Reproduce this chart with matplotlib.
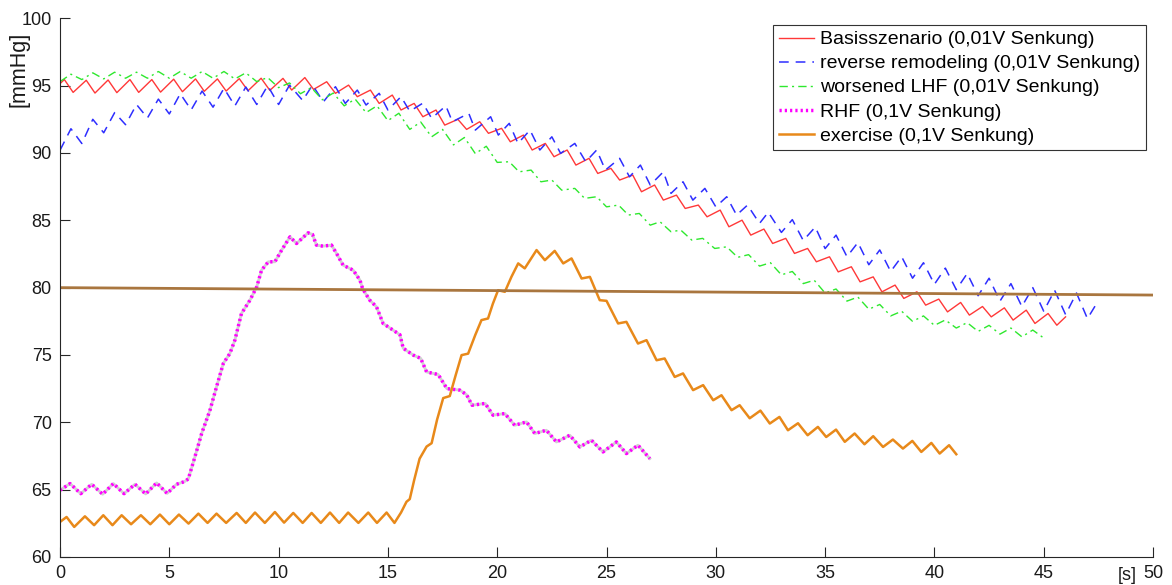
import matplotlib
matplotlib.use("Agg")
import matplotlib.pyplot as plt

plt.rcParams['font.family'] = ['Liberation Sans', 'DejaVu Sans']
plt.rcParams['lines.scale_dashes'] = False

# Basisszenario (0,01V Senkung)
red_t = [0.0, 0.2, 0.6, 1.2, 1.6, 2.2, 2.6, 3.2, 3.6, 4.2, 4.6, 5.2, 5.6, 6.2, 6.6, 7.2, 7.6,
         8.2, 8.6, 9.2, 9.6, 10.2, 10.6, 11.2, 11.6, 12.2, 12.6, 13.2, 13.6, 14.2, 14.6,
         15.2, 15.6, 16.2, 16.6, 17.2, 17.6, 18.2, 18.6, 19.2, 19.6, 20.2, 20.6, 21.2, 21.6,
         22.2, 22.6, 23.2, 23.6, 24.2, 24.6, 25.2, 25.6, 26.2, 26.6, 27.2, 27.6, 28.2, 28.6,
         29.2, 29.6, 30.2, 30.6, 31.2, 31.6, 32.2, 32.6, 33.2, 33.6, 34.2, 34.6, 35.2, 35.6,
         36.2, 36.6, 37.2, 37.6, 38.2, 38.6, 39.2, 39.6, 40.2, 40.6, 41.2, 41.6, 42.2, 42.6,
         43.2, 43.6, 44.2, 44.6, 45.2, 45.6, 46.0]
red_v = [95.15, 95.45, 94.5, 95.4, 94.45, 95.42, 94.48, 95.45, 94.5, 95.45, 94.52, 95.48, 94.55,
         95.5, 94.58, 95.5, 94.6, 95.52, 94.62, 95.55, 94.65, 95.54, 94.67, 95.6, 94.72,
         95.29, 94.43, 95.04, 94.18, 94.67, 93.68, 94.3, 93.19, 93.68, 92.69, 93.19, 92.07,
         92.5, 91.75, 92.32, 91.46, 91.83, 90.83, 91.33, 90.22, 90.71, 89.72, 90.22, 89.1,
         89.6, 88.48, 88.86, 87.99, 88.36, 87.12, 87.62, 86.5, 86.87, 85.88, 86.13, 85.26,
         85.76, 84.52, 85.01, 83.9, 84.35, 83.28, 83.66, 82.54, 82.91, 81.92, 82.29, 81.17,
         81.55, 80.43, 80.8, 79.69, 80.19, 79.2, 79.69, 78.7, 79.15, 78.2, 78.9, 77.96,
         78.6, 77.83, 78.5, 77.59, 78.33, 77.34, 78.08, 77.21, 77.83]

# reverse remodeling (0,01V Senkung)
blue_t = [0.0, 0.5, 1.0, 1.5, 2.0, 2.5, 3.0, 3.5, 4.0, 4.5, 5.0, 5.5, 6.0, 6.5, 7.0, 7.5, 8.0,
          8.5, 9.0, 9.5, 10.0, 10.5, 11.1, 11.55, 12.05, 12.6, 13.05, 13.6, 14.0, 14.6, 15.0,
          15.6, 16.0, 16.6, 17.0, 17.65, 17.95, 18.7, 19.0, 19.7, 20.05, 20.55, 20.95, 21.5,
          21.95, 22.5, 22.9, 23.55, 24.05, 24.55, 24.95, 25.6, 26.05, 26.55, 27.0, 27.6,
          27.95, 28.5, 28.95, 29.5, 30.0, 30.5, 30.95, 31.45, 32.0, 32.4, 33.0, 33.5, 34.0,
          34.55, 35.0, 35.5, 36.0, 36.5, 37.0, 37.5, 38.0, 38.5, 39.0, 39.5, 40.0, 40.5,
          41.0, 41.5, 42.0, 42.5, 43.0, 43.5, 44.0, 44.5, 45.0, 45.5, 46.0, 46.5, 47.0, 47.45]
blue_v = [90.2, 91.8, 90.7, 92.5, 91.5, 93.0, 92.1, 93.6, 92.6, 94.0, 92.9, 94.4, 93.2, 94.6,
          93.4, 94.8, 93.5, 94.9, 93.6, 95.0, 93.6, 95.04, 93.9, 95.04, 93.8, 94.92, 93.68,
          94.67, 93.56, 94.43, 93.19, 94.18, 93.1, 93.7, 92.57, 93.5, 92.32, 92.94, 91.7,
          92.69, 91.33, 92.2, 90.71, 91.7, 90.22, 91.2, 89.97, 90.71, 89.35, 90.22, 88.73,
          89.6, 88.23, 89.1, 87.62, 88.6, 87.0, 87.86, 86.5, 87.37, 86.0, 86.75, 85.39,
          86.13, 84.77, 85.6, 84.1, 85.05, 83.5, 84.5, 82.9, 83.9, 82.3, 83.35, 81.7, 82.8,
          81.2, 82.3, 80.7, 81.85, 80.25, 81.45, 79.85, 81.05, 79.4, 80.7, 79.0, 80.3, 78.6,
          80.0, 78.25, 79.8, 78.0, 79.6, 77.7, 78.9]

# worsened LHF (0,01V Senkung)
green_t = [0.0, 0.5, 1.0, 1.5, 2.0, 2.5, 3.0, 3.5, 4.0, 4.5, 5.0, 5.5, 6.0, 6.5, 7.0, 7.5, 8.0,
           8.5, 9.0, 9.5, 10.0, 10.5, 11.0, 11.5, 12.0, 12.5, 13.0, 13.5, 14.0, 14.5, 15.0,
           15.5, 16.0, 16.5, 17.0, 17.5, 18.0, 18.5, 19.0, 19.5, 20.0, 20.55, 21.0, 21.55,
           22.0, 22.5, 22.95, 23.55, 24.0, 24.55, 25.0, 25.55, 26.0, 26.5, 27.0, 27.45, 27.95,
           28.4, 28.9, 29.4, 29.95, 30.5, 31.0, 31.5, 32.0, 32.5, 33.0, 33.5, 34.0, 34.5,
           35.0, 35.5, 36.0, 36.5, 37.0, 37.5, 38.0, 38.5, 39.0, 39.5, 40.0, 40.5, 41.0,
           41.5, 42.0, 42.5, 43.0, 43.5, 44.0, 44.5, 45.05]
green_v = [95.3, 95.85, 95.45, 95.95, 95.5, 96.0, 95.55, 96.0, 95.55, 96.05, 95.55, 96.05,
           95.55, 96.05, 95.55, 96.05, 95.5, 95.95, 95.3, 95.6, 94.85, 95.2, 94.4, 94.85,
           93.95, 94.45, 93.5, 94.0, 93.0, 93.5, 92.4, 92.95, 91.75, 92.3, 91.2, 91.75, 90.6,
           91.15, 89.95, 90.5, 89.3, 89.35, 88.6, 88.73, 87.86, 87.99, 87.24, 87.37, 86.63,
           86.75, 86.0, 86.13, 85.39, 85.51, 84.64, 84.89, 84.15, 84.27, 83.53, 83.66, 82.91,
           83.03, 82.25, 82.45, 81.6, 81.85, 80.95, 81.2, 80.3, 80.55, 79.6, 79.9, 79.0, 79.3,
           78.4, 78.75, 77.9, 78.25, 77.5, 77.9, 77.2, 77.6, 77.0, 77.4, 76.75, 77.2, 76.55,
           77.0, 76.35, 76.85, 76.2]

# RHF (0,1V Senkung)
rhf_t = [0.0, 0.46, 0.95, 1.45, 1.95, 2.44, 2.93, 3.43, 3.92, 4.42, 4.9, 5.33, 5.7, 5.87,
         6.17, 6.48, 6.86, 7.16, 7.47, 7.77, 8.0, 8.3, 8.69, 9.0, 9.22, 9.53, 9.83, 10.14,
         10.52, 10.82, 11.35, 11.55, 11.73, 12.03, 12.42, 12.65, 12.95, 13.41, 13.72, 13.85,
         14.17, 14.48, 14.78, 15.24, 15.55, 15.7, 16.16, 16.5, 16.77, 17.3, 17.7, 18.29,
         18.6, 18.85, 19.45, 19.81, 20.35, 20.8, 21.34, 21.72, 22.25, 22.71, 23.32, 23.78,
         24.31, 24.84, 25.45, 25.91, 26.44, 26.98]
rhf_v = [64.96, 65.45, 64.7, 65.4, 64.66, 65.45, 64.7, 65.4, 64.68, 65.5, 64.72, 65.4, 65.6,
         65.8, 67.43, 69.17, 70.9, 72.63, 74.37, 75.11, 76.1, 78.08, 79.07, 80.06, 81.3,
         81.92, 81.92, 82.79, 83.77, 83.28, 84.07, 83.95, 83.16, 83.08, 83.16, 82.54, 81.67,
         81.3, 80.56, 79.9, 79.07, 78.57, 77.34, 76.84, 76.5, 75.5, 74.99, 74.75, 73.74,
         73.55, 72.5, 72.39, 72.05, 71.27, 71.4, 70.53, 70.65, 69.78, 70.03, 69.17, 69.41,
         68.54, 69.04, 68.17, 68.67, 67.8, 68.54, 67.68, 68.3, 67.31]

# exercise (0,1V Senkung)
ex_t = [0.0, 0.3, 0.65, 1.14, 1.56, 1.98, 2.4, 2.82, 3.25, 3.7, 4.13, 4.57, 5.0, 5.44, 5.88,
        6.33, 6.75, 7.16, 7.6, 8.08, 8.5, 8.92, 9.37, 9.83, 10.25, 10.67, 11.1, 11.51, 11.93,
        12.35, 12.77, 13.18, 13.65, 14.1, 14.5, 14.94, 15.3, 15.6, 15.85, 16.0, 16.2, 16.45,
        16.77, 17.0, 17.25, 17.53, 17.83, 18.1, 18.37, 18.67, 19.0, 19.28, 19.58, 19.8,
        20.04, 20.35, 20.65, 20.96, 21.26, 21.8, 22.18, 22.63, 23.02, 23.4, 23.86, 24.24,
        24.69, 25.0, 25.53, 25.91, 26.44, 26.83, 27.29, 27.66, 28.12, 28.5, 28.96, 29.42,
        29.88, 30.26, 30.72, 31.09, 31.55, 32.04, 32.47, 32.91, 33.3, 33.76, 34.2, 34.67,
        35.05, 35.5, 35.9, 36.35, 36.8, 37.2, 37.65, 38.1, 38.56, 38.99, 39.4, 39.86,
        40.24, 40.67, 41.0]
ex_v = [62.6, 62.97, 62.23, 63.02, 62.36, 63.1, 62.36, 63.1, 62.43, 63.1, 62.43, 63.15, 62.43,
        63.15, 62.48, 63.22, 62.53, 63.22, 62.53, 63.27, 62.53, 63.3, 62.53, 63.34, 62.55,
        63.27, 62.53, 63.27, 62.53, 63.3, 62.53, 63.3, 62.53, 63.3, 62.53, 63.3, 62.53,
        63.3, 64.1, 64.3, 65.7, 67.3, 68.2, 68.45, 70.2, 71.8, 71.95, 73.5, 74.99, 75.1,
        76.5, 77.59, 77.71, 78.8, 79.81, 79.69, 80.8, 81.8, 81.43, 82.79, 82.04, 82.73,
        81.8, 82.17, 80.68, 80.8, 79.07, 79.02, 77.34, 77.46, 75.85, 76.1, 74.61, 74.74,
        73.37, 73.63, 72.39, 72.76, 71.64, 72.01, 70.9, 71.27, 70.3, 70.87, 69.91, 70.4,
        69.41, 69.93, 69.04, 69.66, 68.91, 69.46, 68.55, 69.17, 68.37, 68.97, 68.17, 68.72,
        68.05, 68.62, 67.8, 68.47, 67.68, 68.3, 67.63]

# Referenzlinie
ref_t = [0.0, 50.0]
ref_v = [80.0, 79.45]

labels = ['Basisszenario (0,01V Senkung)', 'reverse remodeling (0,01V Senkung)',
          'worsened LHF (0,01V Senkung)', 'RHF (0,1V Senkung)', 'exercise (0,1V Senkung)']

fig = plt.figure(figsize=(11.72, 5.85), dpi=100)
ax = fig.add_axes([0.0512, 0.0479, 0.9326, 0.9208])

ax.plot(red_t, red_v, color='#FF3838', lw=1.0, label=labels[0])
ax.plot(blue_t, blue_v, color='#2E2EFF', lw=1.1, dashes=(7, 5), label=labels[1])
ax.plot(green_t, green_v, color='#2EE82E', lw=1.0, dashes=(6, 3, 1.5, 3), label=labels[2])
ax.plot(rhf_t, rhf_v, color='#D0D0D0', lw=2.0)
ax.plot(rhf_t, rhf_v, color='#FF00FF', lw=2.5, dashes=(1.6, 2.2), label=labels[3])
ax.plot(ex_t, ex_v, color='#E8891A', lw=1.8, label=labels[4])
ax.plot(ref_t, ref_v, color='#A9763F', lw=2.0)

ax.set_xlim(0, 50)
ax.set_ylim(60, 100)
ax.set_xticks(range(0, 51, 5))
ax.set_yticks(range(60, 101, 5))

for s in ['top', 'right']:
    ax.spines[s].set_visible(False)
for s in ['left', 'bottom']:
    ax.spines[s].set_color('#262626')
    ax.spines[s].set_linewidth(0.8)
ax.tick_params(direction='in', length=7, width=0.8, color='#262626',
               labelsize=13, labelcolor='#1a1a1a', pad=6)

ax.set_ylabel('[mmHg]', fontsize=15.5, color='#1a1a1a')
ax.yaxis.set_label_coords(-0.0275, 0.905)
ax.text(0.9854, -0.0186, '[s]', transform=ax.transAxes, ha='right', va='top',
        fontsize=13, color='#1a1a1a')

leg = ax.legend(loc='upper right', bbox_to_anchor=(0.9936, 0.9876), borderaxespad=0,
                fontsize=14, frameon=True, fancybox=False, framealpha=1,
                handlelength=1.8, handletextpad=0.3, labelspacing=0.33, borderpad=0.3)
leg.get_frame().set_edgecolor('#333333')
leg.get_frame().set_linewidth(0.8)

fig.savefig('out.png', dpi=100)
